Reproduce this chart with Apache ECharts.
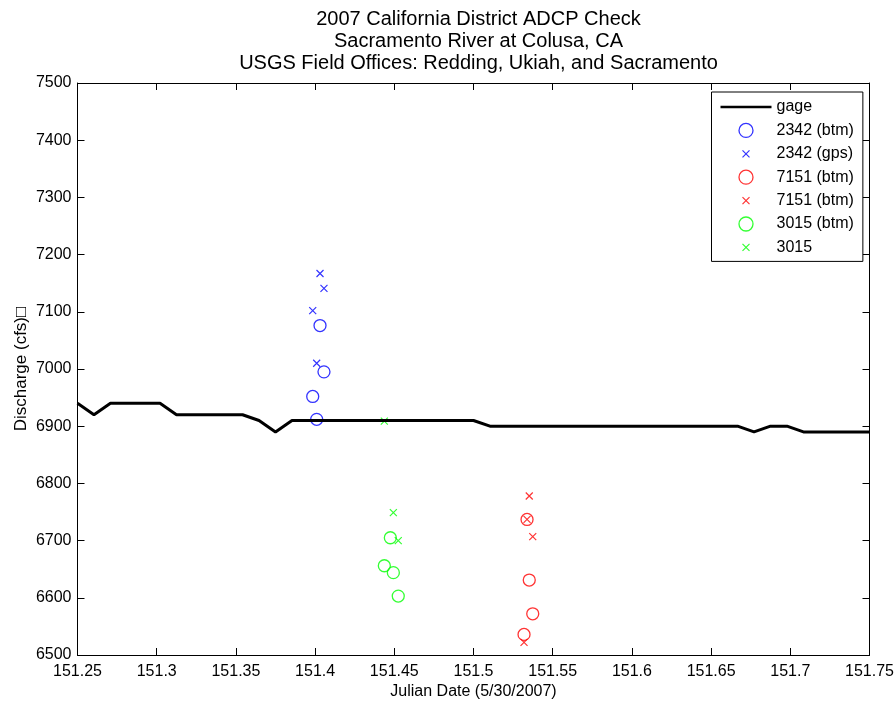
<!DOCTYPE html>
<html>
<head>
<meta charset="utf-8">
<title>2007 California District ADCP Check</title>
<script src="https://cdn.jsdelivr.net/npm/echarts@6/dist/echarts.min.js"></script>
<style>
  html, body { margin: 0; padding: 0; background: #fff; }
  #chart { width: 896px; height: 702px; }
</style>
</head>
<body>
<div id="chart"></div>
<script>
// gage record (Julian day, cfs)
var gageTime = [151.25, 151.2604, 151.2708, 151.3021, 151.3125, 151.3542, 151.3646, 151.375,
    151.3854, 151.5, 151.5104, 151.6667, 151.6771, 151.6875, 151.6979, 151.7083, 151.75];
var gageFlow = [6940, 6920, 6940, 6940, 6920, 6920, 6910, 6890,
    6910, 6910, 6900, 6900, 6890, 6900, 6900, 6890, 6890];

// ADCP measurements
var blueTime = [151.4031, 151.4056, 151.3985, 151.4010];
var blueBtm = [7076, 6995, 6952, 6912];
var blueGps = [7167, 7141, 7102, 7010];

var redTime = [151.5338, 151.5352, 151.5374, 151.5319];
var redBtm = [6737, 6631, 6572, 6536];
var redX = [6737, 6778, 6707, 6522];

var greenBtmTime = [151.4475, 151.4437, 151.4494, 151.4525];
var greenBtm = [6705, 6656, 6644, 6603];
var greenXTime = [151.4494, 151.4525, 151.4437];
var greenX = [6749, 6700, 6909];

// second "7151 (btm)" carries a trailing space so the legend keeps both entries
var legendNames = ['gage', '2342 (btm)', '2342 (gps)', '7151 (btm)', '7151 (btm) ', '3015 (btm)', '3015'];

var FONT = 'Liberation Sans, Arial, sans-serif';
var CROSS = 'path://M0,0L10,10M10,0L0,10';
var CROSS_SMALL = 'path://M0,0M20,20M5,5L15,15M15,5L5,15';
var LINE_ICON = 'path://M0,0L51,0L51,2.6L0,2.6Z';

function pairs(xs, ys)
{
    var out = [];
    for (var i = 0; i < xs.length; i++) {
        out.push([xs[i], ys[i]]);
    }
    return out;
}

function circles(name, color, data)
{
    return {
        name: name,
        type: 'scatter',
        symbol: 'circle',
        symbolSize: 12,
        data: data,
        itemStyle: { color: 'rgba(0,0,0,0)', borderColor: color, borderWidth: 1.3 },
        emphasis: { disabled: true }
    };
}

function crosses(name, color, data)
{
    return {
        name: name,
        type: 'scatter',
        symbol: CROSS,
        symbolSize: 7,
        data: data,
        itemStyle: { color: 'rgba(0,0,0,0)', borderColor: color, borderWidth: 1.2 },
        emphasis: { disabled: true }
    };
}

var fmt = function(v) { return String(parseFloat(v.toFixed(3))); };
var fmtY = function(v) { return String(Math.round(v)); };

var chart = echarts.init(document.getElementById('chart'));
var option = {
    backgroundColor: '#fff',
    animation: false,
    title: {
        text: '2007 California District ADCP Check\nSacramento River at Colusa, CA\nUSGS Field Offices: Redding, Ukiah, and Sacramento',
        left: 473.5,
        top: 3,
        textAlign: 'center',
        textStyle: { fontFamily: FONT, fontSize: 20, fontWeight: 'normal', color: '#000', lineHeight: 22 }
    },
    grid: { left: 77.5, right: 26.5, top: 83, bottom: 47, containLabel: false, outerBoundsMode: 'none' },
    legend: {
        orient: 'vertical',
        left: 711.5,
        top: 92,
        padding: [7, 9, 6, 9],
        itemWidth: 51,
        itemHeight: 14,
        itemGap: 7.4,
        backgroundColor: '#fff',
        borderColor: '#000',
        borderWidth: 1,
        borderRadius: 0,
        textStyle: { fontFamily: FONT, fontSize: 16, color: '#000' },
        formatter: function(name) { return name.trim(); },
        itemStyle: { borderWidth: 'inherit' },
        data: [
            { name: legendNames[0], icon: LINE_ICON, itemStyle: { color: '#000', borderWidth: 0 } },
            { name: legendNames[1] },
            { name: legendNames[2], icon: CROSS_SMALL },
            { name: legendNames[3] },
            { name: legendNames[4], icon: CROSS_SMALL },
            { name: legendNames[5] },
            { name: legendNames[6], icon: CROSS_SMALL }
        ],
        selectedMode: false
    },
    xAxis: [
        {
            type: 'value',
            min: 151.25,
            max: 151.75,
            interval: 0.05,
            name: 'Julian Date (5/30/2007)',
            nameLocation: 'middle',
            nameGap: 29,
            nameMoveOverlap: false,
            nameTextStyle: { fontFamily: FONT, fontSize: 16, color: '#000' },
            axisLine: { onZero: false, lineStyle: { color: '#000', width: 1 } },
            axisTick: { inside: true, length: 7, lineStyle: { color: '#000' } },
            axisLabel: { fontFamily: FONT, fontSize: 16, color: '#000', margin: 9, formatter: fmt },
            splitLine: { show: false }
        },
        {
            type: 'value',
            position: 'top',
            min: 151.25,
            max: 151.75,
            interval: 0.05,
            axisLine: { onZero: false, lineStyle: { color: '#000', width: 1 } },
            axisTick: { inside: true, length: 7, lineStyle: { color: '#000' } },
            axisLabel: { show: false },
            splitLine: { show: false }
        }
    ],
    yAxis: [
        {
            type: 'value',
            min: 6500,
            max: 7500,
            interval: 100,
            name: 'Discharge (cfs)\u25A1',
            nameLocation: 'middle',
            nameGap: 48,
            nameMoveOverlap: false,
            nameTextStyle: { fontFamily: FONT, fontSize: 17, color: '#000' },
            axisLine: { show: true, onZero: false, lineStyle: { color: '#000', width: 1 } },
            axisTick: { show: true, inside: true, length: 7, lineStyle: { color: '#000' } },
            axisLabel: { fontFamily: FONT, fontSize: 16, color: '#000', margin: 6, formatter: fmtY },
            splitLine: { show: false }
        },
        {
            type: 'value',
            position: 'right',
            min: 6500,
            max: 7500,
            interval: 100,
            axisLine: { show: true, onZero: false, lineStyle: { color: '#000', width: 1 } },
            axisTick: { show: true, inside: true, length: 7, lineStyle: { color: '#000' } },
            axisLabel: { show: false },
            splitLine: { show: false }
        }
    ],
    series: [
        {
            name: legendNames[0],
            type: 'line',
            data: pairs(gageTime, gageFlow),
            symbol: 'none',
            lineStyle: { color: '#000', width: 3 },
            itemStyle: { color: '#000' },
            emphasis: { disabled: true }
        },
        circles(legendNames[1], '#0000ff', pairs(blueTime, blueBtm)),
        crosses(legendNames[2], '#0000ff', pairs(blueTime, blueGps)),
        circles(legendNames[3], '#ff0000', pairs(redTime, redBtm)),
        crosses(legendNames[4], '#ff0000', pairs(redTime, redX)),
        circles(legendNames[5], '#00ff00', pairs(greenBtmTime, greenBtm)),
        crosses(legendNames[6], '#00ff00', pairs(greenXTime, greenX))
    ]
};
chart.setOption(option);
</script>
</body>
</html>
